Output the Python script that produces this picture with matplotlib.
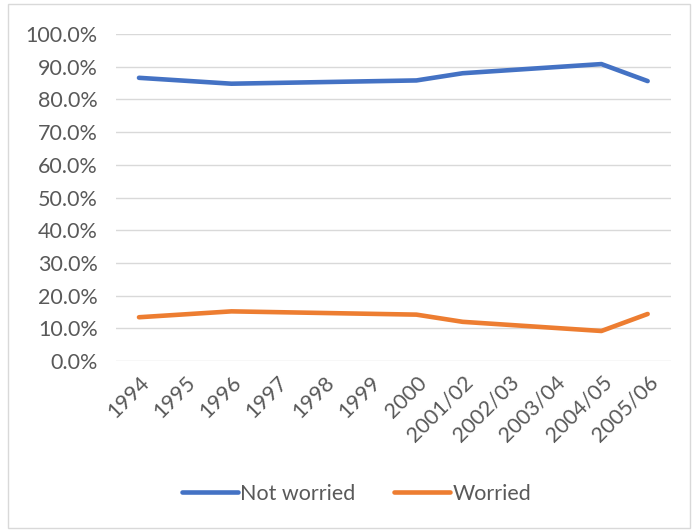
import numpy as np
import matplotlib.pyplot as plt
from matplotlib.patches import Rectangle
from matplotlib.ticker import PercentFormatter

years = ['1994', '1995', '1996', '1997', '1998', '1999', '2000',
         '2001/02', '2002/03', '2003/04', '2004/05', '2005/06']
# survey not run every year - gaps are None
not_worried = [86.6, None, 84.8, None, None, None, 85.8, 88.0, None, None, 90.8, 85.6]
worried = [13.4, None, 15.2, None, None, None, 14.2, 12.0, None, None, 9.2, 14.4]

plt.rcParams['font.family'] = ['Lato', 'DejaVu Sans']
text_col = '#595959'
fsize = 15.5

fig = plt.figure(figsize=(6.98, 5.31), dpi=100)
ax = fig.add_axes([0.166, 0.320, 0.795, 0.616])

# outer chart border
fig.patches.append(Rectangle((0.012, 0.006), 0.976, 0.986, transform=fig.transFigure,
                             fill=False, edgecolor='#d9d9d9', linewidth=1))


def plot_series(vals, color, label):
    x = [i for i, v in enumerate(vals) if v is not None]
    y = [v for v in vals if v is not None]
    ax.plot(x, y, color=color, linewidth=3.3, label=label, solid_capstyle='round')


plot_series(not_worried, '#4472c4', 'Not worried')
plot_series(worried, '#ed7d31', 'Worried')

ax.set_ylim(0, 100)
ax.set_xlim(-0.5, len(years) - 0.5)
ax.set_yticks(np.arange(0, 101, 10))
ax.yaxis.set_major_formatter(PercentFormatter(decimals=1))
ax.set_xticks(range(len(years)))
ax.set_xticklabels(years, rotation=45, ha='right', rotation_mode='anchor')

ax.grid(axis='y', color='#d9d9d9', linewidth=1)
ax.set_axisbelow(True)
for s in ax.spines.values():
    s.set_visible(False)
ax.tick_params(length=0, labelsize=fsize, colors=text_col)
ax.tick_params(axis='x', pad=8)
ax.tick_params(axis='y', pad=13)

ax.legend(loc='center', bbox_to_anchor=(0.511, 0.07), bbox_transform=fig.transFigure,
          ncol=2, frameon=False, fontsize=fsize, labelcolor=text_col,
          handlelength=2.6, handletextpad=0.1, columnspacing=1.8)

fig.savefig('out.png', dpi=100)
